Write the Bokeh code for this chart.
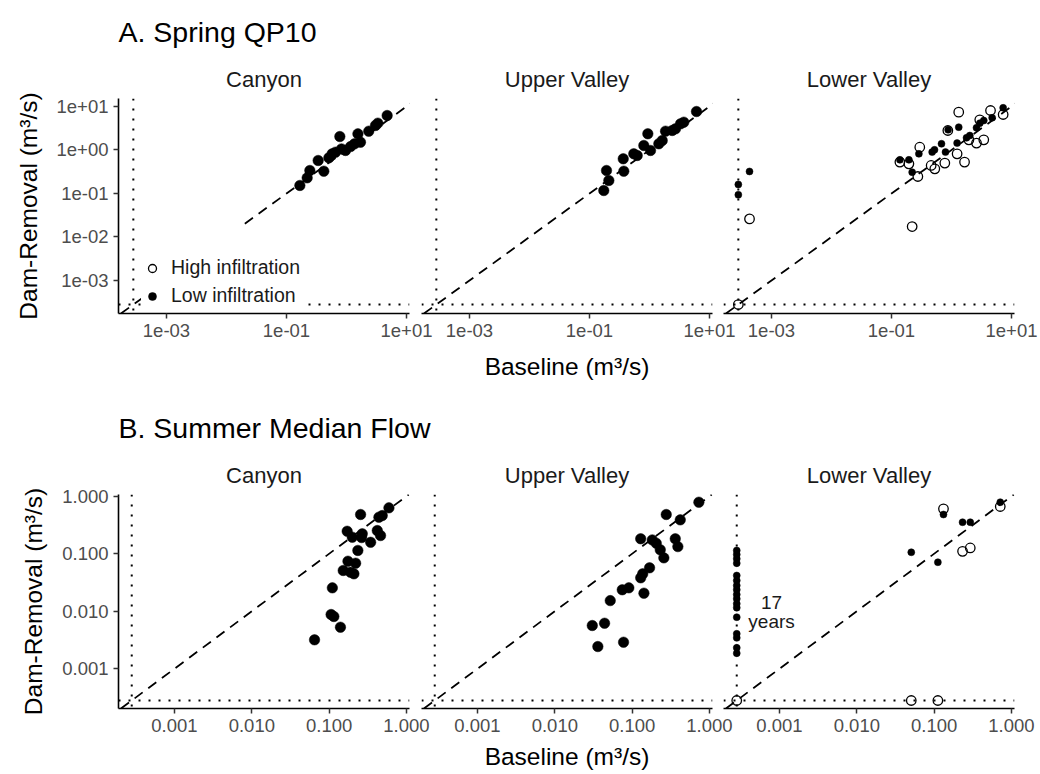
from bokeh.plotting import figure
from bokeh.layouts import column, row
from bokeh.models import (FixedTicker, CustomJSTickFormatter, Slope, Span, Range1d,
                          Title, Legend, LegendItem, ColumnDataSource)
from bokeh.embed import file_html
from bokeh.resources import INLINE
from bokeh.core.properties import value

FONT = "Liberation Sans"

# ---------------- text ----------------
sites = ["Canyon", "Upper Valley", "Lower Valley"]
row_titles = ["A. Spring QP10", "B. Summer Median Flow"]
x_title = "Baseline (m³/s)"
y_title = "Dam-Removal (m³/s)"
legend_labels = ["High infiltration", "Low infiltration"]

# zero flows are drawn on this floor of the log axes (dotted lines)
ZERO_FLOOR = 2.8e-4

# ---------------- A. Spring QP10 (m3/s) ----------------
qp10_canyon_baseline = [0.167, 0.221, 0.245, 0.337, 0.419, 0.508, 0.577, 0.656, 0.774, 0.826,
                        0.962, 1.17, 1.36, 1.55, 1.71, 2.35, 3.04, 3.33, 4.76]
qp10_canyon_damremoval = [0.153, 0.229, 0.338, 0.574, 0.326, 0.661, 0.817, 0.891, 2.04, 1.06,
                          0.975, 1.20, 1.39, 2.35, 1.51, 2.71, 3.66, 4.14, 6.21]
qp10_upper_baseline = [0.173, 0.210, 0.192, 0.373, 0.365, 0.547, 0.624, 0.804, 0.938, 1.04,
                       1.43, 1.63, 1.85, 2.39, 2.71, 3.29, 3.73, 6.07]
qp10_upper_damremoval = [0.117, 0.199, 0.338, 0.326, 0.628, 0.818, 0.748, 1.27, 2.36, 0.975,
                         1.39, 1.65, 2.71, 2.81, 3.07, 4.00, 4.36, 7.67]
qp10_lower_low_baseline = [0, 0, 4.3e-4, 0.138, 0.195, 0.286, 0.221, 0.476, 0.521, 0.681, 0.794,
                           0.879, 1.32, 1.24, 1.78, 2.02, 2.61, 2.96, 3.45, 4.76, 7.26]
qp10_lower_low_damremoval = [0.161, 0.093, 0.321, 0.594, 0.594, 0.817, 0.309, 0.895, 1.01, 1.39,
                             0.895, 2.91, 3.35, 1.44, 1.91, 2.15, 3.24, 4.14, 4.76, 5.50, 9.33]
qp10_lower_high_baseline = [0, 4.3e-4, 0.221, 0.138, 0.195, 0.296, 0.275, 0.458, 0.527, 0.774,
                            0.869, 1.24, 1.32, 1.65, 1.95, 2.61, 3.45, 2.96, 4.47, 7.26]
qp10_lower_high_damremoval = [0, 0.026, 0.0174, 0.527, 0.481, 1.16, 0.246, 0.441, 0.369, 0.500,
                              2.81, 0.817, 7.41, 0.527, 1.71, 1.44, 1.71, 4.94, 8.09, 6.55]

# ---------------- B. Summer Median Flow (m3/s) ----------------
summer_canyon_baseline = [0.0647, 0.110, 0.106, 0.115, 0.140, 0.152, 0.175, 0.189, 0.209, 0.220,
                          0.171, 0.199, 0.235, 0.255, 0.268, 0.263, 0.344, 0.419, 0.462, 0.440,
                          0.486, 0.593]
summer_canyon_damremoval = [0.00318, 0.0255, 0.00877, 0.00809, 0.00527, 0.0511, 0.0741, 0.0476,
                            0.0447, 0.0684, 0.246, 0.194, 0.114, 0.481, 0.222, 0.191, 0.158,
                            0.253, 0.207, 0.432, 0.461, 0.628]
summer_upper_baseline = [0.0360, 0.0305, 0.0440, 0.0774, 0.0521, 0.0745, 0.0906, 0.142, 0.129,
                         0.137, 0.168, 0.129, 0.182, 0.205, 0.231, 0.257, 0.276, 0.361, 0.390,
                         0.419, 0.729]
summer_upper_damremoval = [0.00243, 0.00564, 0.00618, 0.00289, 0.0153, 0.0236, 0.0255, 0.0206,
                           0.0381, 0.0447, 0.0569, 0.182, 0.174, 0.152, 0.117, 0.0847, 0.481,
                           0.182, 0.133, 0.388, 0.787]
summer_lower_low_baseline = [0, 0, 0, 0, 0, 0, 0, 0, 0, 0, 0, 0, 0, 0, 0, 0, 0,
                             0.0506, 0.1117, 0.132, 0.233, 0.293, 0.716]
summer_lower_low_damremoval = [0.114, 0.0968, 0.0815, 0.0684, 0.0418, 0.0342, 0.0280, 0.0236,
                               0.0195, 0.0164, 0.0135, 0.0115, 0.00787, 0.00405, 0.00344,
                               0.00231, 0.00186,
                               0.106, 0.0711, 0.481, 0.353, 0.353, 0.787]
summer_lower_high_baseline = [0, 0.0506, 0.1117, 0.132, 0.233, 0.293, 0.716]
summer_lower_high_damremoval = [0, 0, 0, 0.603, 0.110, 0.126, 0.662]

# ---------------- ticks ----------------
qp10_xtick_values = [1e-3, 1e-1, 1e1]
qp10_xtick_labels = ["1e-03", "1e-01", "1e+01"]
qp10_ytick_values = [1e-3, 1e-2, 1e-1, 1.0, 1e1]
qp10_ytick_labels = ["1e-03", "1e-02", "1e-01", "1e+00", "1e+01"]
summer_tick_values = [0.001, 0.01, 0.1, 1.0]
summer_tick_labels = ["0.001", "0.010", "0.100", "1.000"]

# axis extents (log10 of limits)
qp10_x_lim = (10 ** -3.80, 10 ** 1.05)
qp10_y_lim = (10 ** -3.759, 10 ** 1.184)
summer_x_lim = (10 ** -3.724, 10 ** 0.039)
summer_y_lim = (10 ** -3.692, 10 ** 0.03)

# annotation position for the count of zero-baseline years
years_note_x = 7.9e-4
years_note_y = 0.0097


def floor0(vals):
    return [ZERO_FLOOR if v == 0 else v for v in vals]


def tick_fmt(vals, labs):
    return CustomJSTickFormatter(args=dict(vals=vals, labs=labs), code="""
        let best = 0, d = Infinity;
        for (let i = 0; i < vals.length; i++) {
            const e = Math.abs(Math.log10(tick) - Math.log10(vals[i]));
            if (e < d) { d = e; best = i; }
        }
        return labs[best];
    """)


def style_axis(ax):
    ax.axis_line_color = "black"
    ax.axis_line_width = 1.6
    ax.major_tick_line_color = "#333333"
    ax.major_tick_line_width = 1.5
    ax.major_tick_out = 5
    ax.major_tick_in = 0
    ax.minor_tick_line_color = None
    ax.major_label_text_font = FONT
    ax.major_label_text_font_size = "18.5px"
    ax.major_label_text_color = "#4D4D4D"
    ax.major_label_standoff = 5
    ax.axis_label_text_font = FONT
    ax.axis_label_text_font_size = "24.5px"
    ax.axis_label_text_font_style = "normal"
    ax.axis_label_text_color = "black"


def style_title(t, size):
    t.text_font = FONT
    t.text_font_size = size
    t.text_font_style = "normal"


def make_panel(row_idx, site_idx, x_lim, y_lim, xt, xl, yt, yl, frame_h, top, bottom, xstand):
    first = site_idx == 0
    last = site_idx == 2
    p = figure(x_axis_type="log", y_axis_type="log",
               x_range=Range1d(*x_lim), y_range=Range1d(*y_lim),
               frame_width=291, frame_height=frame_h,
               min_border_left=118 if first else 0,
               min_border_right=26 if last else (40 if first else 30),
               min_border_top=top, min_border_bottom=bottom,
               output_backend="svg", toolbar_location=None)
    if first:
        # row title (outermost) + strip title next to the frame
        p.title.text = row_titles[row_idx]
        p.title.align = "left"
        style_title(p.title, "28.5px")
        p.title.text_color = "black"
        p.title.standoff = 20
        strip = Title(text=sites[site_idx], align="center", text_color="#1A1A1A", standoff=14)
        style_title(strip, "22px")
        p.add_layout(strip, "above")
    else:
        p.title.text = sites[site_idx]
        p.title.align = "center"
        style_title(p.title, "22px")
        p.title.text_color = "#1A1A1A"
        p.title.standoff = 14
    p.xgrid.visible = False
    p.ygrid.visible = False
    p.outline_line_color = None
    p.background_fill_color = None
    p.border_fill_color = None

    p.xaxis.ticker = FixedTicker(ticks=xt)
    p.xaxis.formatter = tick_fmt(xt, xl)
    p.yaxis.ticker = FixedTicker(ticks=yt)
    p.yaxis.formatter = tick_fmt(yt, yl)
    style_axis(p.xaxis[0])
    style_axis(p.yaxis[0])
    p.xaxis.axis_label_standoff = xstand
    p.yaxis.axis_label_standoff = 12
    if first:
        p.yaxis.axis_label = y_title
    else:
        p.yaxis.visible = False
        p.styles = {"margin-left": "-28px" if site_idx == 1 else "-19px"}
    if site_idx == 1:
        p.xaxis.axis_label = x_title

    # 1:1 line and zero-flow lines
    p.add_layout(Slope(gradient=1, y_intercept=0, line_color="black", line_width=1.8,
                       line_dash="10 7", level="underlay"))
    p.add_layout(Span(location=ZERO_FLOOR, dimension="height", line_color="black",
                      line_width=2, line_dash="2 8", level="underlay"))
    p.add_layout(Span(location=ZERO_FLOOR, dimension="width", line_color="black",
                      line_width=2, line_dash="2 8", level="underlay"))
    return p


LOW_STYLE = dict(marker="circle", size=7, fill_color="black", line_color="black", line_width=0.5)
HIGH_STYLE = dict(marker="circle", size=9.5, fill_color=None, line_color="black", line_width=1.3)


def add_big(p, xs, ys):
    src = ColumnDataSource(dict(x=floor0(xs), y=floor0(ys)))
    p.scatter("x", "y", source=src, marker="circle", size=10.5,
              fill_color="black", line_color="black", line_width=0.5)


def add_lower(p, low_x, low_y, high_x, high_y):
    low = ColumnDataSource(dict(x=floor0(low_x), y=floor0(low_y)))
    high = ColumnDataSource(dict(x=floor0(high_x), y=floor0(high_y)))
    p.scatter("x", "y", source=low, **LOW_STYLE)
    p.scatter("x", "y", source=high, **HIGH_STYLE)
    return low, high


# ---------------- Row A ----------------
A_TOP, A_H, A_BOT = 98, 215, 73
a_args = (qp10_x_lim, qp10_y_lim, qp10_xtick_values, qp10_xtick_labels,
          qp10_ytick_values, qp10_ytick_labels, A_H, A_TOP, A_BOT, 13)
pa1 = make_panel(0, 0, *a_args)
pa2 = make_panel(0, 1, *a_args)
pa3 = make_panel(0, 2, *a_args)
add_big(pa1, qp10_canyon_baseline, qp10_canyon_damremoval)
add_big(pa2, qp10_upper_baseline, qp10_upper_damremoval)
low_src, high_src = add_lower(pa3, qp10_lower_low_baseline, qp10_lower_low_damremoval,
                              qp10_lower_high_baseline, qp10_lower_high_damremoval)

# legend (inside Canyon panel) -- keyed to the infiltration groups, hidden renderers
r_hi = pa1.scatter("x", "y", source=high_src, visible=False, **HIGH_STYLE)
r_lo = pa1.scatter("x", "y", source=low_src, visible=False, **LOW_STYLE)
legend = Legend(items=[LegendItem(label=legend_labels[0], renderers=[r_hi]),
                       LegendItem(label=legend_labels[1], renderers=[r_lo])],
                location=(23, 6), title=" ", title_text_font_size="18px",
                title_standoff=9, padding=8, spacing=5, margin=0,
                label_height=20, glyph_height=20, glyph_width=22,
                label_standoff=8, label_width=133,
                label_text_font=FONT, label_text_font_size="19.5px",
                label_text_color="#1A1A1A",
                inactive_fill_alpha=0.0,
                background_fill_color="white", background_fill_alpha=1.0,
                border_line_color=None)
pa1.add_layout(legend, "center")

# ---------------- Row B ----------------
B_TOP, B_H, B_BOT = 108, 214, 66
b_args = (summer_x_lim, summer_y_lim, summer_tick_values, summer_tick_labels,
          summer_tick_values, summer_tick_labels, B_H, B_TOP, B_BOT, 8)
pb1 = make_panel(1, 0, *b_args)
pb2 = make_panel(1, 1, *b_args)
pb3 = make_panel(1, 2, *b_args)
add_big(pb1, summer_canyon_baseline, summer_canyon_damremoval)
add_big(pb2, summer_upper_baseline, summer_upper_damremoval)
add_lower(pb3, summer_lower_low_baseline, summer_lower_low_damremoval,
          summer_lower_high_baseline, summer_lower_high_damremoval)

n_zero_years = sum(1 for v in summer_lower_low_baseline if v == 0)
pb3.text(x=[years_note_x], y=[years_note_y], text=[f"{n_zero_years}\nyears"],
         text_align="center", text_baseline="middle", text_font=value(FONT),
         text_font_size="19px", text_line_height=0.95, text_color="#1A1A1A")

layout = column(row(pa1, pa2, pa3), row(pb1, pb2, pb3))

with open("out.html", "w") as f:
    f.write(file_html(layout, INLINE))
